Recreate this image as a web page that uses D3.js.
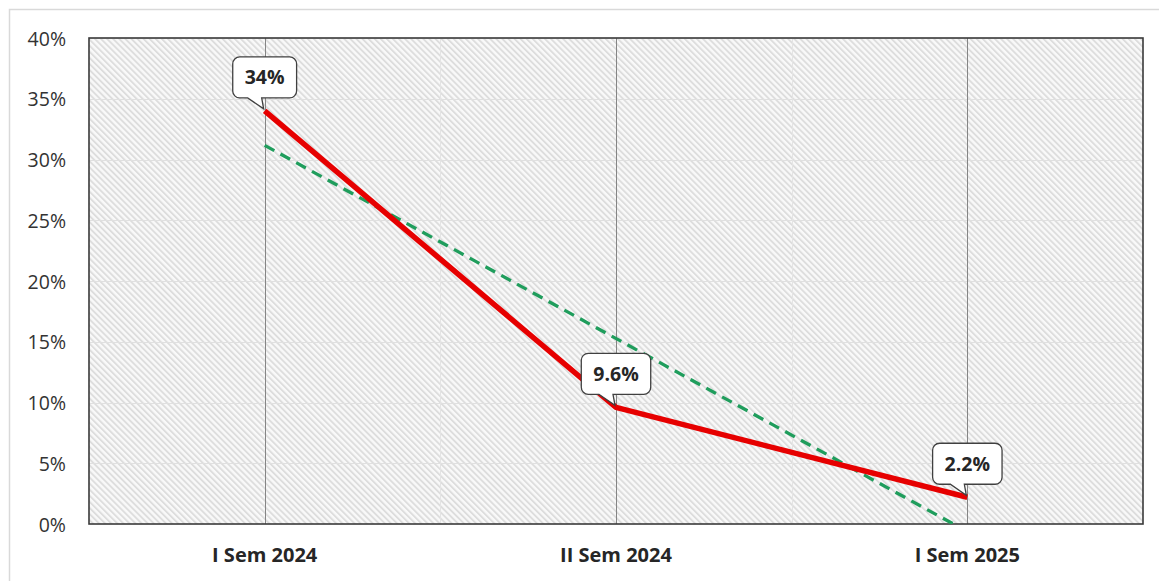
<!DOCTYPE html>
<html>
<head>
<meta charset="utf-8">
<script src="https://cdn.jsdelivr.net/npm/d3@7"></script>
<style>
  html, body { margin: 0; padding: 0; background: #ffffff; }
  svg { display: block; }
</style>
</head>
<body>
<svg id="chart" width="1159" height="581"></svg>
<script>
// Semester categories and measured values (percent)
const categories = ["I Sem 2024", "II Sem 2024", "I Sem 2025"];
const values = [34, 9.6, 2.2];
const valueLabels = ["34%", "9.6%", "2.2%"];
const yTicks = [0, 5, 10, 15, 20, 25, 30, 35, 40];

const svg = d3.select("#chart");
const W = 1159, H = 581;
const plot = { left: 89, right: 1143, top: 38, bottom: 524 };
const FONT = "'Open Sans', 'Noto Sans', sans-serif";

// Outer chart frame
svg.append("rect")
  .attr("x", 9.5).attr("y", 9.5)
  .attr("width", W).attr("height", H)
  .attr("fill", "#ffffff").attr("stroke", "#d9d9d9").attr("stroke-width", 1.5);

// Diagonal hatch fill for the plot area
const defs = svg.append("defs");
const pat = defs.append("pattern")
  .attr("id", "hatch")
  .attr("patternUnits", "userSpaceOnUse")
  .attr("width", 4.3).attr("height", 4.3)
  .attr("patternTransform", "rotate(-45)");
pat.append("rect").attr("width", 4.3).attr("height", 4.3).attr("fill", "#f9f9f9");
pat.append("rect").attr("width", 1.9).attr("height", 4.3).attr("fill", "#dddddd");

defs.append("clipPath").attr("id", "plotClip")
  .append("rect")
  .attr("x", plot.left).attr("y", plot.top)
  .attr("width", plot.right - plot.left).attr("height", plot.bottom - plot.top);

const x = d3.scaleBand().domain(categories).range([plot.left, plot.right]).padding(0);
const xc = d => x(d) + x.bandwidth() / 2;
const y = d3.scaleLinear().domain([0, 40]).range([plot.bottom, plot.top]);

svg.append("rect")
  .attr("x", plot.left).attr("y", plot.top)
  .attr("width", plot.right - plot.left).attr("height", plot.bottom - plot.top)
  .attr("fill", "url(#hatch)");

// Horizontal gridlines
svg.append("g")
  .selectAll("line").data(yTicks.slice(1)).join("line")
  .attr("x1", plot.left).attr("x2", plot.right)
  .attr("y1", d => Math.round(y(d)) + 0.5).attr("y2", d => Math.round(y(d)) + 0.5)
  .attr("stroke", "#e0e0e0").attr("stroke-width", 1);

// Faint vertical lines at category boundaries
svg.append("g")
  .selectAll("line").data(categories.slice(1)).join("line")
  .attr("x1", d => Math.round(x(d)) + 0.5).attr("x2", d => Math.round(x(d)) + 0.5)
  .attr("y1", plot.top).attr("y2", plot.bottom)
  .attr("stroke", "#e4e4e4").attr("stroke-width", 1);

// Major vertical gridlines at category centres
svg.append("g")
  .selectAll("line").data(categories).join("line")
  .attr("x1", d => Math.round(xc(d)) + 0.5).attr("x2", d => Math.round(xc(d)) + 0.5)
  .attr("y1", plot.top).attr("y2", plot.bottom)
  .attr("stroke", "#858585").attr("stroke-width", 1);

// Plot border
svg.append("rect")
  .attr("x", plot.left).attr("y", plot.top)
  .attr("width", plot.right - plot.left).attr("height", plot.bottom - plot.top)
  .attr("fill", "none").attr("stroke", "#3a3a3a").attr("stroke-width", 1.6);

// Y axis
const yAxis = d3.axisLeft(y).tickValues(yTicks).tickSize(0).tickPadding(0)
  .tickFormat(d => d + "%");
const gy = svg.append("g").attr("transform", `translate(${plot.left - 23},0)`).call(yAxis);
gy.select(".domain").remove();
gy.selectAll("text")
  .attr("font-family", FONT).attr("font-size", 19.5).attr("fill", "#333333")
  .attr("dy", "0.36em");

// X axis labels
const xAxis = d3.axisBottom(x).tickSize(0).tickPadding(0);
const gx = svg.append("g").attr("transform", `translate(0,${plot.bottom + 24})`).call(xAxis);
gx.select(".domain").remove();
gx.selectAll("text")
  .attr("font-family", FONT).attr("font-size", 20).attr("font-weight", "bold")
  .attr("fill", "#262626").attr("dy", "0.71em");

// Linear trend (least squares over category index)
const n = values.length;
const xs = d3.range(n);
const mx = d3.mean(xs), my = d3.mean(values);
const slope = d3.sum(xs, i => (i - mx) * (values[i] - my)) / d3.sum(xs, i => (i - mx) ** 2);
const intercept = my - slope * mx;
const idxToPx = i => xc(categories[0]) + i * x.bandwidth();
const trendPts = [0, n - 1].map(i => [idxToPx(i), y(intercept + slope * i)]);

svg.append("g").attr("clip-path", "url(#plotClip)")
  .append("path")
  .attr("d", d3.line()(trendPts))
  .attr("fill", "none").attr("stroke", "#1f9d5c").attr("stroke-width", 3.3)
  .attr("stroke-dasharray", "11,7");

// Main series
const line = d3.line().x((d, i) => xc(categories[i])).y(d => y(d));
svg.append("path")
  .datum(values)
  .attr("d", line)
  .attr("fill", "none").attr("stroke", "#e60000").attr("stroke-width", 5.5)
  .attr("stroke-linejoin", "round").attr("stroke-linecap", "butt");

// Callout data labels
const callouts = svg.append("g");
values.forEach((v, i) => {
  const px = xc(categories[i]), py = y(v);
  const g = callouts.append("g");
  const path = g.append("path");
  const t = g.append("text")
    .attr("font-family", FONT).attr("font-size", 19.5).attr("font-weight", "bold")
    .attr("fill", "#262626").attr("text-anchor", "middle")
    .text(valueLabels[i]);
  const tw = t.node().getComputedTextLength();
  const bw = tw + 24, bh = 41, r = 7;
  const bx = px - bw / 2, bb = py - 13, bt = bb - bh;
  const tl = px - 17, tr = px - 3;
  const p = d3.path();
  p.moveTo(bx + r, bt);
  p.lineTo(bx + bw - r, bt);
  p.arcTo(bx + bw, bt, bx + bw, bt + r, r);
  p.lineTo(bx + bw, bb - r);
  p.arcTo(bx + bw, bb, bx + bw - r, bb, r);
  p.lineTo(tr, bb);
  p.lineTo(px - 1, py - 2);
  p.lineTo(tl, bb);
  p.lineTo(bx + r, bb);
  p.arcTo(bx, bb, bx, bb - r, r);
  p.lineTo(bx, bt + r);
  p.arcTo(bx, bt, bx + r, bt, r);
  p.closePath();
  path.attr("d", p.toString())
    .attr("fill", "#ffffff").attr("stroke", "#404040").attr("stroke-width", 1.3);
  t.attr("x", px).attr("y", (bt + bb) / 2).attr("dy", "0.36em");
});
</script>
</body>
</html>
